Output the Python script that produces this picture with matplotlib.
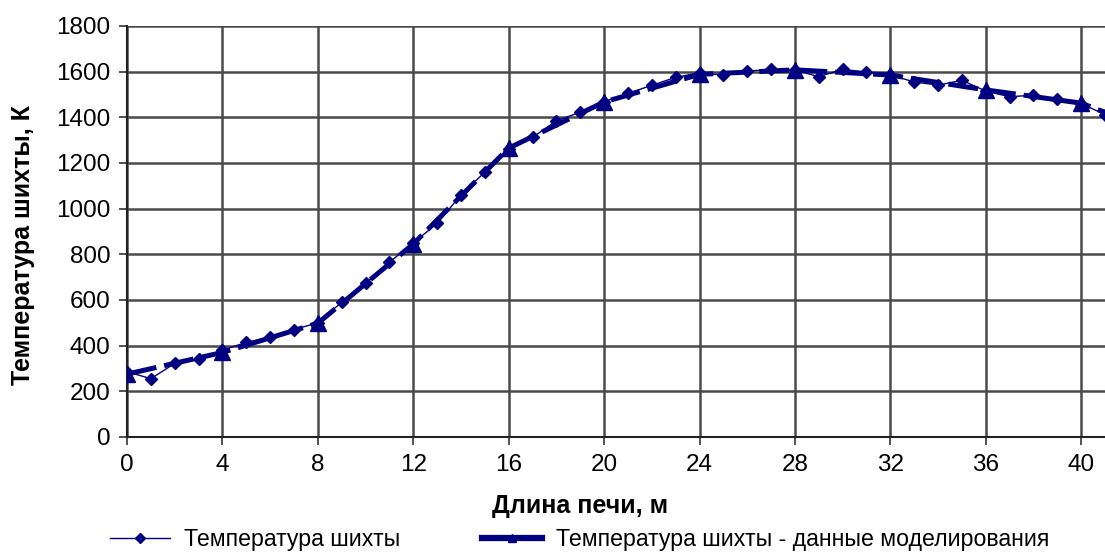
import matplotlib
matplotlib.use("Agg")
import matplotlib.pyplot as plt
from matplotlib.lines import Line2D

plt.rcParams["font.family"] = ["Liberation Sans", "DejaVu Sans"]

# measured charge temperature along the kiln, every metre
x_meas = list(range(0, 42))
t_meas = [285, 255, 322, 341, 380, 414, 436, 470, 500, 590,
          672, 765, 850, 935, 1060, 1160, 1262, 1312, 1385, 1422,
          1468, 1505, 1540, 1575, 1595, 1585, 1602, 1610, 1607, 1578,
          1610, 1598, 1585, 1555, 1541, 1562, 1515, 1490, 1497, 1480,
          1460, 1412]

# modelled charge temperature, every 4 m
x_model = [0, 4, 8, 12, 16, 20, 24, 28, 32, 36, 40, 44]
t_model = [275, 370, 498, 845, 1265, 1467, 1588, 1608, 1585, 1520, 1462, 1300]

x_ticks = list(range(0, 41, 4))
y_ticks = list(range(0, 1801, 200))

label_meas = "Температура шихты"
label_model = "Температура шихты - данные моделирования"
navy = "#000080"

fig = plt.figure(figsize=(11.05, 5.53), dpi=100)
ax = fig.add_axes([0.115, 0.21, 0.885, 0.743])

ax.plot(x_model, t_model, color=navy, lw=3.6, ls=(0, (6, 1.6)),
        marker="^", ms=12, zorder=3)
ax.plot(x_meas, t_meas, color=navy, lw=1, marker="D", ms=6, zorder=4)

ax.set_xlim(0, 41)
ax.set_ylim(0, 1800)
ax.set_xticks(x_ticks)
ax.set_yticks(y_ticks)
ax.tick_params(labelsize=17.5, direction="out", length=6, width=1.2,
               color="#333333", pad=6)
ax.grid(True, color="#4a4a4a", lw=1.8)
ax.set_axisbelow(True)
for s in ["top", "right"]:
    ax.spines[s].set_visible(False)
for s in ["left", "bottom"]:
    ax.spines[s].set_color("#222222")
    ax.spines[s].set_linewidth(1.5)

fig.text(0.525, 0.085, "Длина печи, м", ha="center", va="center",
         fontsize=18, fontweight="bold")
fig.text(0.021, 0.557, "Температура шихты, К", ha="center", va="center",
         rotation=90, fontsize=18, fontweight="bold")

handles = [
    Line2D([], [], color=navy, lw=1, marker="D", ms=5),
    Line2D([], [], color=navy, lw=4.5, marker="^", ms=6),
]
fig.legend(handles, [label_meas, label_model], loc="center left",
           bbox_to_anchor=(0.0995, 0.025), ncol=2, frameon=False,
           fontsize=16.7, handlelength=2.6, handletextpad=0.6,
           columnspacing=3.5, borderaxespad=0, borderpad=0)

fig.savefig("out.png", dpi=100)
